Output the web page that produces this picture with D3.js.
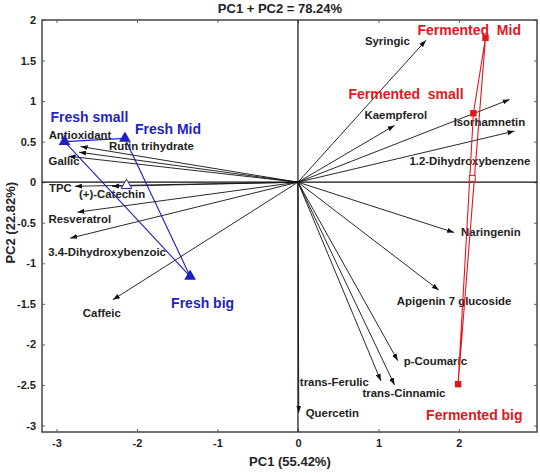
<!DOCTYPE html>
<html>
<head>
<meta charset="utf-8">
<script src="https://cdn.jsdelivr.net/npm/d3@7"></script>
<style>
  body { margin: 0; background: #fff; }
  svg text { font-family: "Liberation Sans", Arial, sans-serif; font-weight: bold; }
</style>
</head>
<body>
<div id="biplot"></div>
<script>
let width_bp = 540,
    height_bp = 473,
    margin_bp = ({ top: 20, right: 3, bottom: 41, left: 42 });

// loadings (PC1, PC2)
const variables = ["Syringic", "Kaempferol", "Isorhamnetin", "1.2-Dihydroxybenzene", "Naringenin",
  "Apigenin 7 glucoside", "p-Coumaric", "trans-Ferulic", "trans-Cinnamic", "Quercetin", "Caffeic",
  "3.4-Dihydroxybenzoic", "Resveratrol", "TPC", "(+)-Catechin", "Antioxidant", "Rutin trihydrate", "Gallic"];
const pc1_load = [1.59, 1.20, 2.63, 2.69, 1.94, 1.75, 1.24, 1.03, 1.20, 0.01, -2.30,
  -2.83, -2.74, -2.77, -2.31, -2.70, -2.72, -2.85];
const pc2_load = [1.75, 0.70, 1.02, 0.63, -0.62, -1.33, -2.20, -2.45, -2.50, -2.84, -1.45,
  -0.69, -0.37, -0.05, -0.05, 0.44, 0.37, 0.32];

// sample scores
const fresh = ["Fresh small", "Fresh Mid", "Fresh big"];
const fresh_pc1 = [-2.90, -2.15, -1.34];
const fresh_pc2 = [0.50, 0.54, -1.16];
const fermented = ["Fermented  small", "Fermented  Mid", "Fermented big"];
const ferm_pc1 = [2.18, 2.33, 1.99];
const ferm_pc2 = [0.85, 1.78, -2.49];

const xTicks = [-3, -2, -1, 0, 1, 2];
const yTicks = [-3, -2.5, -2, -1.5, -1, -0.5, 0, 0.5, 1, 1.5, 2];

// label nudges (px) from the arrow tip / point
const varLabelOffset = [[-61, 5], [-30, -6], [-56, 27], [-105, 34], [7, 4], [-42, 15], [6, 4], [-81, 5],
  [-32, 12], [7, 4], [-30, 17], [-22, 18], [-29, 11], [-26, 6], [-33, 12], [-32, -8], [30, -2], [-20, 9]];
const freshLabelOffset = [[-14, -20], [10, -4], [-19, 32]];
const fermLabelOffset = [[-125, -14], [-68, -3], [-32, 36]];

const blue = "#1f1fc4", red = "#e3161d";

const svg_bp = d3.select("#biplot")
  .append("svg")
  .attr("width", width_bp)
  .attr("height", height_bp);

let x = d3.scaleLinear()
  .domain([-3.18, 2.97])
  .range([margin_bp.left, width_bp - margin_bp.right]);

let y = d3.scaleLinear()
  .domain([-3.08, 2.0])
  .range([height_bp - margin_bp.bottom, margin_bp.top]);

const fmt = d => String(d);

// axes with inward ticks on all sides
svg_bp.append("g")
  .attr("transform", `translate(0,${y.range()[0]})`)
  .call(d3.axisBottom(x).tickValues(xTicks).tickFormat(fmt).tickSizeInner(-3).tickSizeOuter(0).tickPadding(7))
  .call(g => g.selectAll("text").attr("font-size", 11).attr("fill", "#222"));

svg_bp.append("g")
  .attr("transform", `translate(0,${y.range()[1]})`)
  .call(d3.axisTop(x).tickValues(xTicks).tickFormat("").tickSizeInner(-3).tickSizeOuter(0));

svg_bp.append("g")
  .attr("transform", `translate(${x.range()[0]},0)`)
  .call(d3.axisLeft(y).tickValues(yTicks).tickFormat(fmt).tickSizeInner(-3).tickSizeOuter(0).tickPadding(6))
  .call(g => g.selectAll("text").attr("font-size", 11).attr("fill", "#222"));

svg_bp.append("g")
  .attr("transform", `translate(${x.range()[1]},0)`)
  .call(d3.axisRight(y).tickValues(yTicks).tickFormat("").tickSizeInner(-3).tickSizeOuter(0));

svg_bp.selectAll(".domain").remove();
svg_bp.selectAll(".tick line").attr("stroke", "#666");

// frame
svg_bp.append("rect")
  .attr("x", x.range()[0])
  .attr("y", y.range()[1])
  .attr("width", x.range()[1] - x.range()[0])
  .attr("height", y.range()[0] - y.range()[1])
  .attr("fill", "none")
  .attr("stroke", "#444")
  .attr("stroke-width", 1.5);

// zero lines
svg_bp.append("line")
  .attr("x1", x(0)).attr("x2", x(0))
  .attr("y1", y.range()[1]).attr("y2", y.range()[0])
  .attr("stroke", "#111").attr("stroke-width", 1.2);
svg_bp.append("line")
  .attr("x1", x.range()[0]).attr("x2", x.range()[1])
  .attr("y1", y(0)).attr("y2", y(0))
  .attr("stroke", "#111").attr("stroke-width", 1.2);

// arrowhead
svg_bp.append("defs").append("marker")
  .attr("id", "head")
  .attr("viewBox", "0 -3 7 6")
  .attr("refX", 7)
  .attr("refY", 0)
  .attr("markerUnits", "userSpaceOnUse")
  .attr("markerWidth", 7)
  .attr("markerHeight", 6)
  .attr("orient", "auto")
  .append("path")
  .attr("d", "M0,-2.5L7,0L0,2.5Z")
  .attr("fill", "#111");

const loadings = variables.map((v, i) => ({ name: v, pc1: pc1_load[i], pc2: pc2_load[i], off: varLabelOffset[i] }));

svg_bp.append("g")
  .selectAll("line")
  .data(loadings)
  .join("line")
  .attr("x1", x(0))
  .attr("y1", y(0))
  .attr("x2", d => x(d.pc1))
  .attr("y2", d => y(d.pc2))
  .attr("stroke", "#111")
  .attr("stroke-width", 0.9)
  .attr("marker-end", "url(#head)");

svg_bp.append("g")
  .selectAll("text")
  .data(loadings)
  .join("text")
  .attr("x", d => x(d.pc1) + d.off[0])
  .attr("y", d => y(d.pc2) + d.off[1])
  .attr("font-size", 11.4)
  .attr("fill", "#222")
  .text(d => d.name);

// sample groups
function drawGroup(names, xs, ys, offs, color, symbol) {
  const pts = names.map((n, i) => ({ name: n, pc1: xs[i], pc2: ys[i], off: offs[i] }));
  const centre = { pc1: d3.mean(xs), pc2: d3.mean(ys) };
  const line = d3.line().x(d => x(d.pc1)).y(d => y(d.pc2));

  svg_bp.append("path")
    .datum(pts.concat([pts[0]]))
    .attr("d", line)
    .attr("fill", "none")
    .attr("stroke", color)
    .attr("stroke-width", 1.1);

  svg_bp.append("g")
    .selectAll("path")
    .data(pts)
    .join("path")
    .attr("transform", d => `translate(${x(d.pc1)},${y(d.pc2)})`)
    .attr("d", d3.symbol().type(symbol).size(symbol === d3.symbolTriangle ? 60 : 42))
    .attr("fill", color);

  svg_bp.append("path")
    .attr("transform", `translate(${x(centre.pc1)},${y(centre.pc2)})`)
    .attr("d", d3.symbol().type(symbol).size(symbol === d3.symbolTriangle ? 50 : 36))
    .attr("fill", "#fff")
    .attr("stroke", color)
    .attr("stroke-width", 1);

  svg_bp.append("g")
    .selectAll("text")
    .data(pts)
    .join("text")
    .attr("x", d => x(d.pc1) + d.off[0])
    .attr("y", d => y(d.pc2) + d.off[1])
    .attr("font-size", 14)
    .attr("fill", color)
    .style("white-space", "pre")
    .text(d => d.name);
}

drawGroup(fresh, fresh_pc1, fresh_pc2, freshLabelOffset, blue, d3.symbolTriangle);
drawGroup(fermented, ferm_pc1, ferm_pc2, fermLabelOffset, red, d3.symbolSquare);

// titles
svg_bp.append("text")
  .attr("x", 280)
  .attr("y", 13)
  .attr("text-anchor", "middle")
  .attr("font-size", 13)
  .attr("fill", "#222")
  .text("PC1 + PC2 = 78.24%");

svg_bp.append("text")
  .attr("x", x(0) - 8)
  .attr("y", height_bp - 7)
  .attr("text-anchor", "middle")
  .attr("font-size", 13)
  .attr("fill", "#222")
  .text("PC1 (55.42%)");

svg_bp.append("text")
  .attr("transform", `translate(15,${y(-0.5)}) rotate(-90)`)
  .attr("text-anchor", "middle")
  .attr("font-size", 13)
  .attr("fill", "#222")
  .text("PC2 (22.82%)");
</script>
</body>
</html>
